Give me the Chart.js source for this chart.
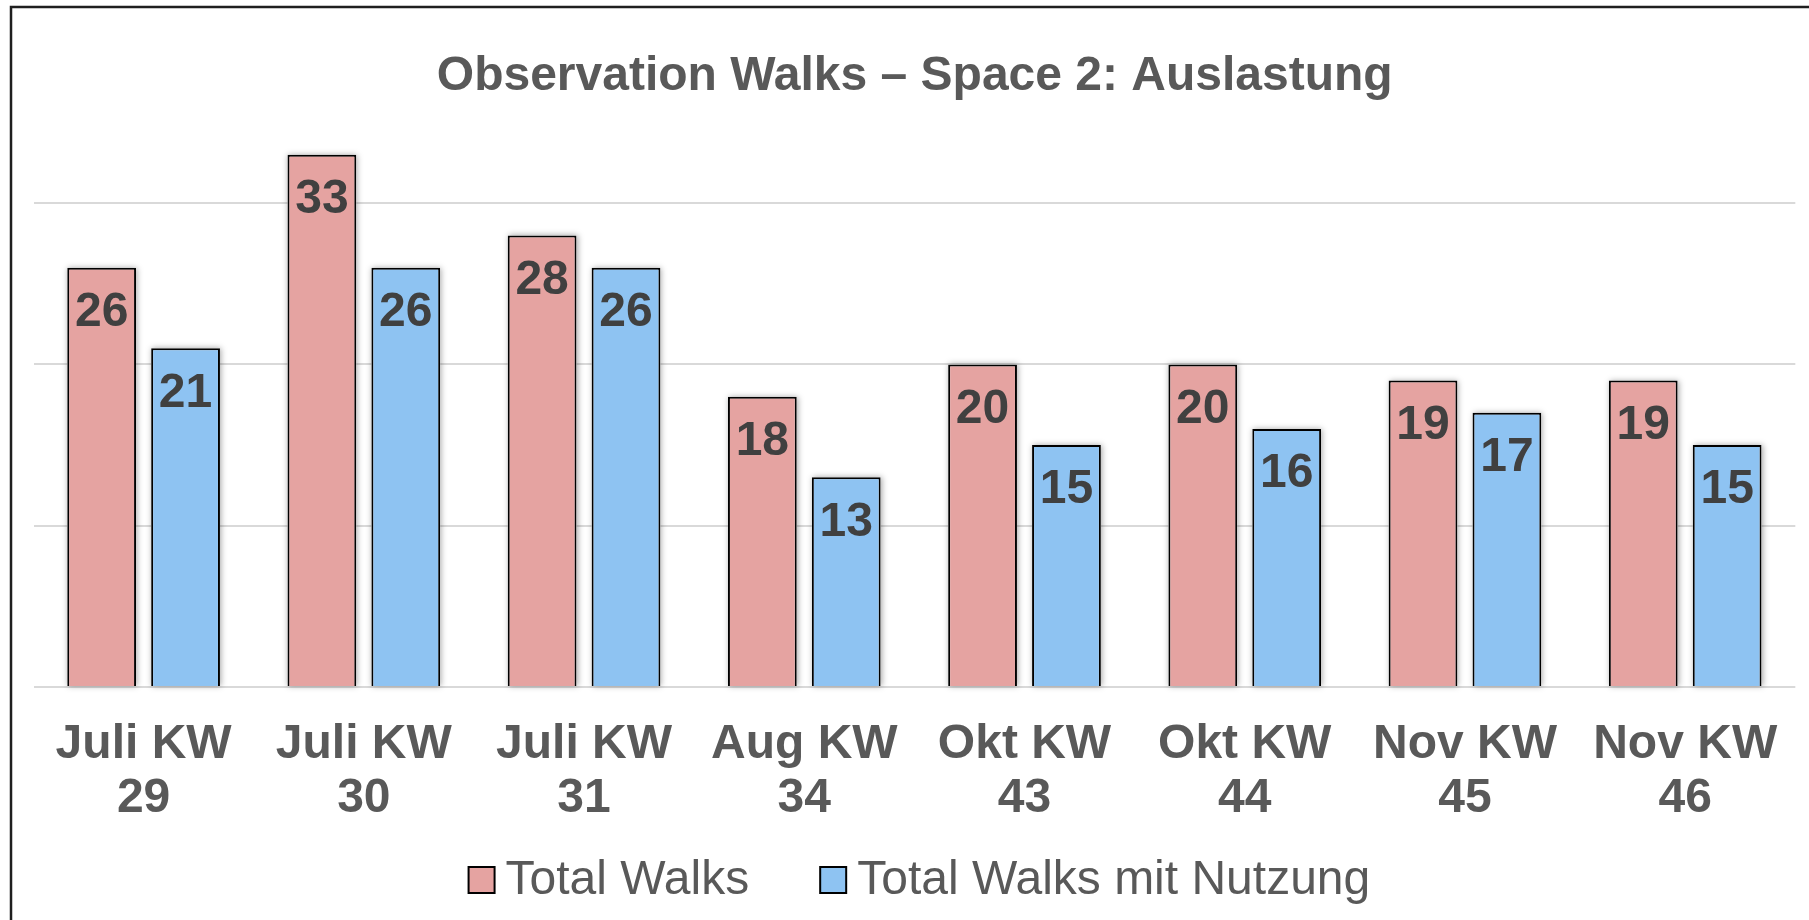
<!DOCTYPE html>
<html>
<head>
<meta charset="utf-8">
<title>Observation Walks – Space 2: Auslastung</title>
<script src="https://cdn.jsdelivr.net/npm/chart.js@4.4.1/dist/chart.umd.min.js"></script>
<style>
    html, body { margin: 0; padding: 0; background: #fff; }
    #wrap { position: relative; width: 1809px; height: 920px; }
</style>
</head>
<body>
<div id="wrap"><canvas id="walksChart"></canvas></div>
<script>
// Daten
const kategorien = [
    ['Juli KW', '29'], ['Juli KW', '30'], ['Juli KW', '31'], ['Aug KW', '34'],
    ['Okt KW', '43'], ['Okt KW', '44'], ['Nov KW', '45'], ['Nov KW', '46']
];
const totalWalks = [26, 33, 28, 18, 20, 20, 19, 19];
const walksMitNutzung = [21, 26, 26, 13, 15, 16, 17, 15];
const serienNamen = ['Total Walks', 'Total Walks mit Nutzung'];

const schrift = 'Liberation Sans, Arial, sans-serif';

document.addEventListener("DOMContentLoaded", function() {
    const ctx = document.getElementById('walksChart').getContext('2d');

    // Rahmen links und oben (Bild ist rechts/unten abgeschnitten)
    const rahmenPlugin = {
        id: 'rahmen',
        beforeDraw(chart) {
            const c = chart.ctx;
            c.save();
            c.strokeStyle = '#1f1f1f';
            c.lineWidth = 2.5;
            c.beginPath();
            c.moveTo(11, chart.height);
            c.lineTo(11, 7);
            c.lineTo(chart.width, 7);
            c.stroke();
            c.restore();
        }
    };

    // leichter Schatten hinter den Balken
    const schattenPlugin = {
        id: 'schatten',
        beforeDatasetsDraw(chart) {
            const c = chart.ctx;
            c.save();
            c.shadowColor = 'rgba(0,0,0,0.35)';
            c.shadowBlur = 6;
            c.shadowOffsetX = 1;
            c.fillStyle = '#fff';
            chart.data.datasets.forEach((ds, i) => {
                chart.getDatasetMeta(i).data.forEach(bar => {
                    c.fillRect(bar.x - bar.width / 2, bar.y, bar.width, bar.base - bar.y);
                });
            });
            c.restore();
        }
    };

    // Werte in den Balken
    const wertePlugin = {
        id: 'werte',
        afterDatasetsDraw(chart) {
            const c = chart.ctx;
            c.save();
            c.font = 'bold 48px ' + schrift;
            c.fillStyle = '#404040';
            c.textAlign = 'center';
            c.textBaseline = 'middle';
            chart.data.datasets.forEach((ds, i) => {
                chart.getDatasetMeta(i).data.forEach((bar, j) => {
                    c.fillText(ds.data[j], bar.x, bar.y + 45);
                });
            });
            c.restore();
        }
    };

    // Legende unten, eigene Zeichnung
    const legendePlugin = {
        id: 'legende',
        afterDraw(chart) {
            const c = chart.ctx;
            const box = 26, abstandText = 11, abstandItem = 71;
            c.save();
            c.font = '48px ' + schrift;
            const breiten = chart.data.datasets.map(ds => c.measureText(ds.label).width);
            let gesamt = 0;
            breiten.forEach((b, i) => { gesamt += box + abstandText + b + (i > 0 ? abstandItem : 0); });
            let x = (chart.chartArea.left + chart.chartArea.right) / 2 + 5 - gesamt / 2;
            const y = 880;
            chart.data.datasets.forEach((ds, i) => {
                c.fillStyle = ds.backgroundColor;
                c.fillRect(x, y - box / 2, box, box);
                c.strokeStyle = '#000';
                c.lineWidth = 2;
                c.strokeRect(x, y - box / 2, box, box);
                c.fillStyle = '#595959';
                c.textAlign = 'left';
                c.textBaseline = 'middle';
                c.fillText(ds.label, x + box + abstandText, y + 1);
                x += box + abstandText + breiten[i] + abstandItem;
            });
            c.restore();
        }
    };

    new Chart(ctx, {
        type: 'bar',
        data: {
            labels: kategorien,
            datasets: [{
                label: serienNamen[0],
                data: totalWalks,
                backgroundColor: '#e5a3a1',
                borderColor: '#000',
                borderWidth: 2,
                categoryPercentage: 0.762,
                barPercentage: 0.82
            }, {
                label: serienNamen[1],
                data: walksMitNutzung,
                backgroundColor: '#8ec3f2',
                borderColor: '#000',
                borderWidth: 2,
                categoryPercentage: 0.762,
                barPercentage: 0.82
            }]
        },
        options: {
            responsive: true,
            maintainAspectRatio: false,
            animation: false,
            layout: {
                padding: { left: 33.5, right: 13, top: 0, bottom: 63 }
            },
            plugins: {
                legend: { display: false },
                tooltip: { enabled: false },
                title: {
                    display: true,
                    text: 'Observation Walks – Space 2: Auslastung',
                    color: '#595959',
                    font: { family: schrift, size: 48, weight: 'bold', lineHeight: 1.2 },
                    padding: { top: 47.5, bottom: 17.5 }
                }
            },
            scales: {
                x: {
                    grid: { display: false, drawTicks: false },
                    border: { display: false },
                    ticks: {
                        color: '#595959',
                        font: { family: schrift, size: 48, weight: 'bold', lineHeight: 1.125 },
                        padding: 31,
                        maxRotation: 0,
                        autoSkip: false
                    }
                },
                y: {
                    min: 0,
                    max: 35,
                    afterBuildTicks: function(scale) {
                        scale.ticks = scale.ticks.filter(t => t.value % 10 === 0);
                    },
                    ticks: { display: false, stepSize: 10 },
                    grid: { color: '#d9d9d9', lineWidth: 2, drawTicks: false },
                    border: { display: false }
                }
            }
        },
        plugins: [rahmenPlugin, schattenPlugin, wertePlugin, legendePlugin]
    });
});
</script>
</body>
</html>
